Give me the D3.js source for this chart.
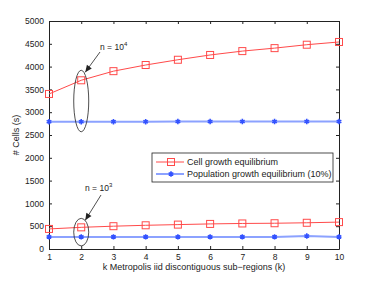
<!DOCTYPE html>
<html>
<head>
<meta charset="utf-8">
<script src="https://cdn.jsdelivr.net/npm/d3@7"></script>
<style>
body{margin:0;background:#fff;}
text{font-family:"Liberation Sans",Arial,sans-serif;fill:#222;}
</style>
</head>
<body>
<div id="chart"></div>
<script>
// data
var kValues=[1,2,3,4,5,6,7,8,9,10];
var cellBig=[3400,3700,3900,4035,4150,4255,4340,4405,4480,4540];//n=10^4
var popBig=[2790,2790,2790,2790,2795,2795,2795,2795,2795,2795];
var cellSmall=[440,475,500,520,535,550,560,565,575,590];//n=10^3
var popSmall=[265,265,265,265,265,265,265,265,285,265];
var yTicks=[0,500,1000,1500,2000,2500,3000,3500,4000,4500,5000];
var legendLabels=["Cell growth equilibrium","Population growth equilibrium (10%)"];

var W=374,H=281;
var m={left:49,right:35,top:21,bottom:32};
var svg=d3.select("#chart").append("svg").attr("width",W).attr("height",H);
var x=d3.scaleLinear().domain([1,10]).range([m.left,W-m.right]);
var y=d3.scaleLinear().domain([0,5000]).range([H-m.bottom,m.top]);
var red="#ff4a4a",blue="#8ca2ff",blueMark="#3352ff";

//axes, matlab style ticks inside on all four sides
var g=svg.append("g");
g.append("g").attr("transform","translate(0,"+y(0)+")")
	.call(d3.axisBottom(x).tickValues(kValues).tickFormat(d3.format("d")).tickSizeInner(-3).tickSizeOuter(0).tickPadding(5));
g.append("g").attr("transform","translate(0,"+y(5000)+")")
	.call(d3.axisTop(x).tickValues(kValues).tickFormat("").tickSizeInner(-3).tickSizeOuter(0));
g.append("g").attr("transform","translate("+x(1)+",0)")
	.call(d3.axisLeft(y).tickValues(yTicks).tickFormat(d3.format("d")).tickSizeInner(-3).tickSizeOuter(0).tickPadding(5));
g.append("g").attr("transform","translate("+x(10)+",0)")
	.call(d3.axisRight(y).tickValues(yTicks).tickFormat("").tickSizeInner(-3).tickSizeOuter(0));
g.selectAll(".domain").attr("stroke","#222").attr("stroke-width",1);
g.selectAll(".tick line").attr("stroke","#222");
g.selectAll(".tick text").attr("font-size","8.5px").attr("fill","#222");

var line=d3.line().x(function(d,i){return x(kValues[i]);}).y(function(d){return y(d);});

function marker(sel,kind,color){
	if(kind=="square")
		sel.append("rect").attr("x",-3.5).attr("y",-3.5).attr("width",7).attr("height",7)
			.attr("fill","none").attr("stroke",color).attr("stroke-width",1);
	else
		sel.append("path").attr("d",d3.symbol(d3.symbolAsterisk,20)).attr("stroke",blueMark).attr("stroke-width",1.6).attr("fill","none");
}
function drawSeries(vals,color,kind){
	svg.append("path").datum(vals).attr("d",line).attr("fill","none").attr("stroke",color).attr("stroke-width",kind=="star"?2:1);
	var pts=svg.append("g").selectAll("g").data(vals).enter().append("g")
		.attr("transform",function(d,i){return "translate("+x(kValues[i])+","+y(d)+")";});
	marker(pts,kind,color);
}
drawSeries(popBig,blue,"star");
drawSeries(cellBig,red,"square");
drawSeries(popSmall,blue,"star");
drawSeries(cellSmall,red,"square");

//annotations: ellipse round the k=2 points, arrow from the label
function annotate(k,v1,v2,pad,label,exp,tx,ty,sx,sy){
	var cy=(y(v1)+y(v2))/2,ry=Math.abs(y(v1)-y(v2))/2+pad;
	svg.append("ellipse").attr("cx",x(k)).attr("cy",cy).attr("rx",7.5).attr("ry",ry)
		.attr("fill","none").attr("stroke","#222").attr("stroke-width",0.8);
	var ax=x(k)+4,ay=cy-ry+2;
	svg.append("line").attr("x1",sx).attr("y1",sy).attr("x2",ax).attr("y2",ay).attr("stroke","#222").attr("stroke-width",0.8);
	var ang=Math.atan2(ay-sy,ax-sx);
	var hl=7,hw=3;
	var p=[[ax,ay],[ax-hl*Math.cos(ang)+hw*Math.sin(ang),ay-hl*Math.sin(ang)-hw*Math.cos(ang)],[ax-hl*Math.cos(ang)-hw*Math.sin(ang),ay-hl*Math.sin(ang)+hw*Math.cos(ang)]];
	svg.append("path").attr("d","M"+p.join("L")+"Z").attr("fill","#222");
	var t=svg.append("text").attr("x",tx).attr("y",ty).attr("font-size","8.5px");
	t.append("tspan").text(label);
	t.append("tspan").attr("dy",-4).attr("font-size","6px").text(exp);
}
annotate(2,cellBig[1],popBig[1],10,"n = 10","4",100,50,100,52);
annotate(2,cellSmall[1],popSmall[1],9,"n = 10","3",85,191,101,195);

//legend
var lg=svg.append("g").attr("transform","translate(152,153)");
lg.append("rect").attr("width",181).attr("height",29).attr("fill","#fff").attr("stroke","#222").attr("stroke-width",0.8);
[[red,"square"],[blue,"star"]].forEach(function(s,i){
	var yy=9+i*12;
	lg.append("line").attr("x1",4).attr("x2",32).attr("y1",yy).attr("y2",yy).attr("stroke",s[0]).attr("stroke-width",s[1]=="star"?2:1);
	marker(lg.append("g").attr("transform","translate(19,"+yy+")"),s[1],s[0]);
	lg.append("text").attr("x",35).attr("y",yy+3).attr("font-size","9px").text(legendLabels[i]);
});

//axis labels
svg.append("text").attr("x",(x(1)+x(10))/2).attr("y",270).attr("text-anchor","middle").attr("font-size","9px")
	.text("k Metropolis iid discontiguous sub\u2212regions (k)");
svg.append("text").attr("transform","translate(19,"+y(2500)+") rotate(-90)").attr("text-anchor","middle").attr("font-size","9px")
	.text("# Cells (s)");
</script>
</body>
</html>
